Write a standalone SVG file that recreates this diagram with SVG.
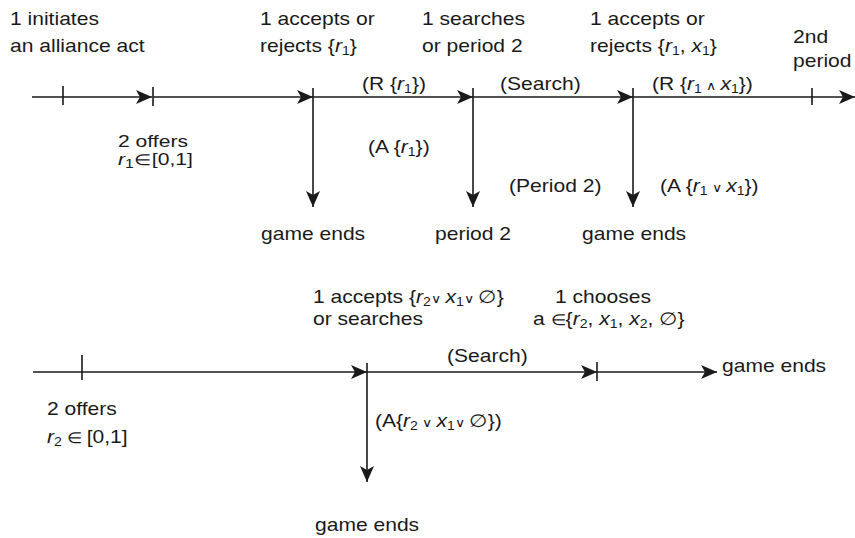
<svg xmlns="http://www.w3.org/2000/svg" width="855" height="538" viewBox="0 0 855 538">
<defs>
<marker id="ah" markerUnits="userSpaceOnUse" markerWidth="18" markerHeight="16" refX="16" refY="7" orient="auto">
<path d="M0,0 L16,7 L0,14 L4,7 z" fill="#1a1a1a"/>
</marker>
</defs>
<style>
text{font-family:"Liberation Sans",Arial,sans-serif;font-size:18px;fill:#1a1a1a}
.i{font-style:italic}
.s{font-size:12px}
.op{font-size:12px}
.el{font-size:15px}
.sm{font-size:16px}
.ln{stroke:#1a1a1a;stroke-width:1.6;fill:none}
.ar{stroke:#1a1a1a;stroke-width:1.6;fill:none;marker-end:url(#ah)}
</style>
<rect width="855" height="538" fill="#fff"/>
<g id="connectors">
<line class="ar" x1="32" y1="97" x2="152" y2="97"/>
<line class="ln" x1="63" y1="86" x2="63" y2="105"/>
<line class="ln" x1="153" y1="87" x2="153" y2="106"/>
<line class="ar" x1="153" y1="97" x2="313" y2="97"/>
<line class="ar" x1="313" y1="88" x2="313" y2="207"/>
<line class="ar" x1="313" y1="97" x2="473" y2="97"/>
<line class="ar" x1="473" y1="88" x2="473" y2="207"/>
<line class="ar" x1="473" y1="97" x2="633" y2="97"/>
<line class="ar" x1="633" y1="88" x2="633" y2="207"/>
<line class="ar" x1="633" y1="97" x2="855" y2="97"/>
<line class="ln" x1="812" y1="88" x2="812" y2="105"/>
<line class="ar" x1="33" y1="372" x2="367" y2="372"/>
<line class="ln" x1="82" y1="355" x2="82" y2="380"/>
<line class="ar" x1="367" y1="363" x2="367" y2="482"/>
<line class="ar" x1="367" y1="372" x2="597" y2="372"/>
<line class="ln" x1="597" y1="362" x2="597" y2="381"/>
<line class="ar" x1="597" y1="372" x2="717" y2="372"/>
</g>
<g id="n-initiate"><text transform="translate(10 25) scale(1.17 1)">1 initiates</text><text transform="translate(10 52) scale(1.17 1)">an alliance act</text></g>
<g id="n-offer1"><text class="sm" transform="translate(118 147) scale(1.32 1)">2 offers</text><text class="sm" transform="translate(118 165) scale(1.32 1)"><tspan class="i">r</tspan><tspan class="s" dy="3">1</tspan><tspan class="el" dy="-3">∈</tspan><tspan>[0,1]</tspan></text></g>
<g id="n-accept1"><text transform="translate(260 25) scale(1.17 1)">1 accepts or</text><text transform="translate(260 52) scale(1.17 1)">rejects {<tspan class="i">r</tspan><tspan class="s" dy="3">1</tspan><tspan dy="-3">}</tspan></text></g>
<g id="n-R1"><text transform="translate(362 90) scale(1.17 1)">(R {<tspan class="i">r</tspan><tspan class="s" dy="3">1</tspan><tspan dy="-3">})</tspan></text></g>
<g id="n-A1"><text transform="translate(368 153) scale(1.17 1)">(A {<tspan class="i">r</tspan><tspan class="s" dy="3">1</tspan><tspan dy="-3">})</tspan></text></g>
<g id="n-end1"><text transform="translate(261 240) scale(1.17 1)">game ends</text></g>
<g id="n-search1"><text transform="translate(422 25) scale(1.17 1)">1 searches</text><text transform="translate(422 52) scale(1.17 1)">or period 2</text></g>
<g id="n-S1"><text transform="translate(500 90) scale(1.17 1)">(Search)</text></g>
<g id="n-P2"><text transform="translate(509 192) scale(1.17 1)">(Period 2)</text></g>
<g id="n-period2"><text transform="translate(435 240) scale(1.17 1)">period 2</text></g>
<g id="n-accept2"><text transform="translate(590 25) scale(1.17 1)">1 accepts or</text><text transform="translate(590 52) scale(1.17 1)">rejects {<tspan class="i">r</tspan><tspan class="s" dy="3">1</tspan><tspan dy="-3">, </tspan><tspan class="i">x</tspan><tspan class="s" dy="3">1</tspan><tspan dy="-3">}</tspan></text></g>
<g id="n-R2"><text transform="translate(652 90) scale(1.17 1)">(R {<tspan class="i">r</tspan><tspan class="s" dy="3">1</tspan><tspan class="op" dy="-3"> ∧ </tspan><tspan class="i">x</tspan><tspan class="s" dy="3">1</tspan><tspan dy="-3">})</tspan></text></g>
<g id="n-A2"><text transform="translate(660 192) scale(1.17 1)">(A {<tspan class="i">r</tspan><tspan class="s" dy="3">1</tspan><tspan class="op" dy="-3"> ∨ </tspan><tspan class="i">x</tspan><tspan class="s" dy="3">1</tspan><tspan dy="-3">})</tspan></text></g>
<g id="n-end2"><text transform="translate(582 240) scale(1.17 1)">game ends</text></g>
<g id="n-2nd"><text transform="translate(793 43) scale(1.17 1)">2nd</text><text transform="translate(793 67) scale(1.17 1)">period</text></g>
<g id="n-offer2"><text transform="translate(47 415) scale(1.17 1)">2 offers</text><text transform="translate(47 443) scale(1.17 1)"><tspan class="i">r</tspan><tspan class="s" dy="3">2</tspan><tspan class="el" dy="-3"> ∈ </tspan><tspan>[0,1]</tspan></text></g>
<g id="n-accept3"><text transform="translate(313 303) scale(1.17 1)">1 accepts {<tspan class="i">r</tspan><tspan class="s" dy="3">2</tspan><tspan class="op" dy="-3">∨ </tspan><tspan class="i">x</tspan><tspan class="s" dy="3">1</tspan><tspan class="op" dy="-3">∨ </tspan><tspan>∅}</tspan></text><text transform="translate(313 325) scale(1.17 1)">or searches</text></g>
<g id="n-S2"><text transform="translate(447 362) scale(1.17 1)">(Search)</text></g>
<g id="n-A3"><text transform="translate(375 427) scale(1.17 1)">(A{<tspan class="i">r</tspan><tspan class="s" dy="3">2</tspan><tspan class="op" dy="-3"> ∨ </tspan><tspan class="i">x</tspan><tspan class="s" dy="3">1</tspan><tspan class="op" dy="-3">∨ </tspan><tspan>∅})</tspan></text></g>
<g id="n-end3"><text transform="translate(315 531) scale(1.17 1)">game ends</text></g>
<g id="n-choose"><text transform="translate(555 303) scale(1.17 1)">1 chooses</text><text transform="translate(533 325) scale(1.17 1)">a <tspan class="el">∈</tspan><tspan>{</tspan><tspan class="i">r</tspan><tspan class="s" dy="3">2</tspan><tspan dy="-3">, </tspan><tspan class="i">x</tspan><tspan class="s" dy="3">1</tspan><tspan dy="-3">, </tspan><tspan class="i">x</tspan><tspan class="s" dy="3">2</tspan><tspan dy="-3">, ∅}</tspan></text></g>
<g id="n-end4"><text transform="translate(722 372) scale(1.17 1)">game ends</text></g>
</svg>
